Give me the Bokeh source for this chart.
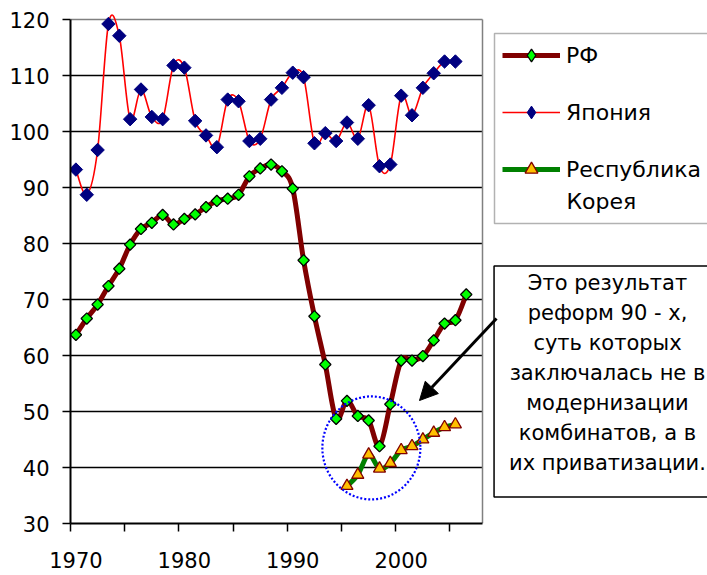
import numpy as np
from bokeh.plotting import figure
from bokeh.models import (FixedTicker, Legend, LegendItem, Label, Arrow, NormalHead,
                          Range1d, BoxAnnotation)
from bokeh.embed import file_html
from bokeh.resources import INLINE

# ---------------- data ----------------
years_rf = list(range(1970, 2007))
rf = [63.7, 66.6, 69.1, 72.4, 75.5, 79.8, 82.6, 83.7, 85.1, 83.4,
      84.4, 85.2, 86.5, 87.6, 88.0, 88.7, 92.0, 93.4, 94.1, 92.9,
      89.8, 77.0, 67.0, 58.4, 48.7, 51.9, 49.2, 48.4, 43.8, 51.3,
      59.1, 59.1, 59.9, 62.7, 65.7, 66.3, 70.9]

years_jp = list(range(1970, 2006))
japan = [93.2, 88.7, 96.7, 119.2, 117.1, 102.2, 107.5, 102.6, 102.2, 111.8,
         111.4, 101.9, 99.3, 97.2, 105.7, 105.4, 98.3, 98.7, 105.7, 107.8,
         110.5, 109.7, 97.9, 99.7, 98.3, 101.6, 98.7, 104.7, 93.8, 94.1,
         106.4, 102.9, 107.8, 110.4, 112.5, 112.5]

years_kr = list(range(1995, 2006))
korea = [36.7, 38.7, 42.3, 39.8, 40.8, 43.1, 43.8, 45.0, 46.2, 47.2, 47.7]

series_names = ["РФ", "Япония", "Республика", "Корея"]
x_tick_labels = [1970, 1980, 1990, 2000]
y_ticks = [30, 40, 50, 60, 70, 80, 90, 100, 110, 120]
note_text = ("Это результат\nреформ 90 - х,\nсуть которых\nзаключалась не в\n"
             "модернизации\nкомбинатов, а в\nих приватизации.")

# plot-area limits (category axis 1970..2007, one slot per year)
x_start, x_end = 1969.5, 2007.5
y_min, y_max = 30, 120

FONT = "DejaVu Sans"


def smooth(xs, ys):
    """Bezier control points for a smoothed line through the given points."""
    xs = np.asarray(xs, float)
    ys = np.asarray(ys, float)
    n = len(xs)
    i = np.arange(n - 1)
    i0 = np.maximum(i - 1, 0)
    i3 = np.minimum(i + 2, n - 1)
    return dict(
        x0=xs[i], y0=ys[i], x1=xs[i + 1], y1=ys[i + 1],
        cx0=xs[i] + (xs[i + 1] - xs[i0]) / 6.0,
        cy0=ys[i] + (ys[i + 1] - ys[i0]) / 6.0,
        cx1=xs[i + 1] - (xs[i3] - xs[i]) / 6.0,
        cy1=ys[i + 1] - (ys[i3] - ys[i]) / 6.0,
    )


# frame spans the whole width so that the legend and the note are not clipped
px_per_year = 412.0 / (x_end - x_start)
px_per_unit = 504.0 / (y_max - y_min)
p = figure(width=707, height=575,
           x_range=Range1d(x_start, x_start + 637.0 / px_per_year),
           y_range=Range1d(y_min, y_min + 510.0 / px_per_unit),
           output_backend="svg", toolbar_location=None,
           min_border_left=70, min_border_right=0,
           min_border_top=13, min_border_bottom=52)

p.background_fill_color = "white"
p.border_fill_color = "white"
p.outline_line_color = None

# axes
p.xaxis.ticker = FixedTicker(ticks=x_tick_labels,
                             minor_ticks=[x_start + 5 * k for k in range(8)])
p.xaxis.bounds = (x_start, x_end)
p.xaxis.major_tick_line_color = None
p.xaxis.minor_tick_line_color = "black"
p.xaxis.minor_tick_line_width = 1.5
p.xaxis.minor_tick_out = 8
p.xaxis.minor_tick_in = 0
p.xaxis.major_label_standoff = 20

p.yaxis.ticker = FixedTicker(ticks=y_ticks)
p.yaxis.bounds = (y_min, y_max)
p.yaxis.minor_tick_line_color = None
p.yaxis.major_tick_line_color = "black"
p.yaxis.major_tick_line_width = 1.5
p.yaxis.major_tick_out = 8
p.yaxis.major_tick_in = 0
p.yaxis.major_label_standoff = 13

for ax in (p.xaxis, p.yaxis):
    ax.axis_line_color = "black"
    ax.axis_line_width = 2
    ax.major_label_text_font = FONT
    ax.major_label_text_font_size = "21px"
    ax.major_label_text_color = "black"

p.xgrid.grid_line_color = None
p.ygrid.grid_line_color = None

# horizontal gridlines inside the plot area
grid_y = y_ticks[1:-1]
p.segment(x0=[x_start] * len(grid_y), x1=[x_end] * len(grid_y), y0=grid_y, y1=grid_y,
          line_color="black", line_width=1.5)
# grey plot-area border (top and right)
p.segment(x0=[x_start, x_end], x1=[x_end, x_end], y0=[y_max, y_min], y1=[y_max, y_max],
          line_color="#808080", line_width=1.5)

# series: RF  (diamond renderer underneath serves the legend key)
rf_line = p.bezier(**smooth(years_rf, rf), line_color="#800000", line_width=5)
rf_key = p.scatter(years_rf, rf, marker="diamond", size=9,
                   fill_color="#00FF00", line_color="black", line_width=1.3)
rf_pts = p.scatter(years_rf, rf, marker="square", angle=np.pi / 4, size=8,
                   fill_color="#00FF00", line_color="black", line_width=1.3)

# series: Japan
jp_line = p.bezier(**smooth(years_jp, japan), line_color="#FF0000", line_width=1.6)
jp_key = p.scatter(years_jp, japan, marker="diamond", size=11,
                   fill_color="#000080", line_color="#000080", line_width=1)
jp_pts = p.scatter(years_jp, japan, marker="square", angle=np.pi / 4, size=9.5,
                   fill_color="#000080", line_color="#000080", line_width=1)

# series: Korea
kr_line = p.bezier(**smooth(years_kr, korea), line_color="#008000", line_width=5)
kr_pts = p.scatter(years_kr, korea, marker="triangle", size=12,
                   fill_color="#FFC000", line_color="#800000", line_width=1.3)

# dotted circle around the 1990s dip
p.ellipse(x=[1997.25], y=[43.5], width=98, height=103,
          width_units="screen", height_units="screen",
          fill_color=None, line_color="#0000FF", line_width=2.2, line_dash="2 2")

# legend frame (extends past the right edge, as in the original)
legend_box = BoxAnnotation(left=424, right=700, top=490, bottom=300,
                           left_units="screen", right_units="screen",
                           top_units="screen", bottom_units="screen",
                           fill_color="white", fill_alpha=1.0,
                           line_color="black", line_width=1.5, level="annotation")
p.add_layout(legend_box)

legend = Legend(items=[
    LegendItem(label=series_names[0], renderers=[rf_line, rf_key]),
    LegendItem(label=series_names[1], renderers=[jp_line, jp_key]),
    LegendItem(label=series_names[2], renderers=[kr_line, kr_pts]),
], location=(432, 338))
legend.label_text_font = FONT
legend.label_text_font_size = "22px"
legend.label_text_color = "black"
legend.glyph_width = 58
legend.glyph_height = 32
legend.label_height = 26
legend.label_standoff = 6
legend.spacing = 25
legend.padding = 8
legend.margin = 0
legend.border_line_color = None
legend.background_fill_alpha = 0.0
p.add_layout(legend)

legend_cont = Label(x=496, y=322, x_units="screen", y_units="screen",
                    text=series_names[3], text_align="left",
                    text_baseline="alphabetic", text_font=FONT,
                    text_font_size="22px", text_color="black")
p.add_layout(legend_cont)

note = Label(x=537, y=142, x_units="screen", y_units="screen", text=note_text,
             text_align="center", text_baseline="middle",
             text_font=FONT, text_font_size="21px", text_color="black",
             text_line_height=1.25,
             border_line_color="black", border_line_width=1.5,
             background_fill_color="white", padding=(15, 15, 5, 22))
p.add_layout(note)

arrow = Arrow(x_start=426, y_start=205, x_end=349, y_end=123,
              start_units="screen", end_units="screen",
              line_color="black", line_width=3,
              end=NormalHead(size=18, fill_color="black", line_color="black"))
p.add_layout(arrow)

open("out.html", "w").write(file_html(p, INLINE))
